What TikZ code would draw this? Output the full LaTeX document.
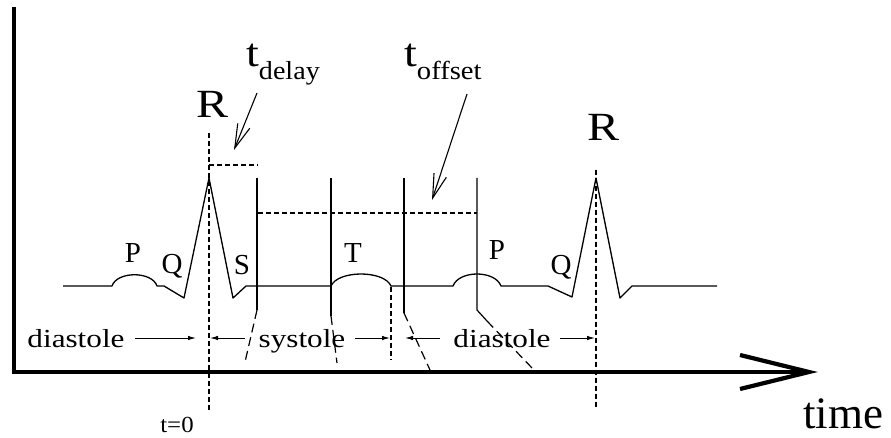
\documentclass[tikz,border=0pt]{standalone}
\usepackage{fontspec}
\setmainfont{Liberation Serif}
\usetikzlibrary{arrows.meta}
\newcommand{\hstretch}[2]{\scalebox{#1}[1]{#2}}
\begin{document}
\begin{tikzpicture}[x=1pt,y=-1pt,
  ecg/.style={line width=1.3pt, line join=round},
  vline/.style={line width=1.2pt},
  dline/.style={line width=1.1pt, dash pattern=on 5pt off 3pt},
  slant/.style={line width=1.2pt, dash pattern=on 9pt off 5pt},
  axisline/.style={line width=4.2pt},
  lbl/.style={inner sep=0pt, font=\fontsize{26}{30}\selectfont},
  wave/.style={inner sep=0pt, font=\fontsize{29}{32}\selectfont},
  big/.style={inner sep=0pt, font=\fontsize{40}{44}\selectfont},
  rowarrow/.style={line width=1pt, -{Latex[length=8pt,width=4.5pt]}},
  callout/.style={line width=1.1pt, -{Straight Barb[length=24pt,width=13pt]}}]
\useasboundingbox (0,0) rectangle (891,438);
% axes
\draw[axisline] (14,7) -- (14,374);
\draw[axisline] (12,372) -- (804,372);
\draw[axisline, line join=miter] (740,355) -- (809,372) -- (740,389);
\node[inner sep=0pt, anchor=base west, font=\fontsize{45}{48}\selectfont] (time) at (803,428) {time};
% ECG trace
\draw[ecg] (63,286) -- (112,286) .. controls (117,271) and (152,271) .. (157,286)
  -- (164,286) -- (184,298) -- (209,178) -- (233,298) -- (246,286) -- (331,286)
  .. controls (338,270) and (384,270) .. (391,286) -- (453,286)
  .. controls (459,270) and (495,270) .. (501,286) -- (548,286) -- (572,297)
  -- (596,178) -- (620,298) -- (632,286) -- (717,286);
% R marker lines
\draw[dline] (209,133) -- (209,410);
\draw[dline] (596,170) -- (596,408);
% vertical markers
\draw[vline] (257,178) -- (257,310);
\draw[slant] (257,310) -- (245,362);
\draw[vline] (331,178) -- (331,316);
\draw[slant] (331,316) -- (337,363);
\draw[vline] (404,178) -- (404,313);
\draw[slant] (404,313) -- (430,370);
\draw[vline] (477,178) -- (477,310) -- (487,321);
\draw[slant] (487,321) -- (533,369);
\draw[dline] (391,287) -- (391,360);
% interval lines
\draw[dline] (209,165) -- (258,165);
\draw[dline] (258,213) -- (477,213);
% labels
\node[big, anchor=base] (R1) at (213,118) {\hstretch{1.2}{R}};
\node[big, anchor=base] (R2) at (603,141) {\hstretch{1.2}{R}};
\node[inner sep=0pt, anchor=base west] (td) at (246,67)
  {\fontsize{40}{44}\selectfont\hstretch{1.15}{t}\raisebox{-13pt}{\fontsize{26}{30}\selectfont\hstretch{1.08}{delay}}};
\node[inner sep=0pt, anchor=base west] (to) at (404,67)
  {\fontsize{40}{44}\selectfont\hstretch{1.15}{t}\raisebox{-13pt}{\fontsize{26}{30}\selectfont\hstretch{1.1}{offset}}};
\coordinate (tdA) at (257,93);
\coordinate (tdB) at (234,150);
\coordinate (toA) at (467,94);
\coordinate (toB) at (432,200);
\draw[callout] (tdA) -- (tdB);
\draw[callout] (toA) -- (toB);
\node[wave, anchor=base] (P1) at (133,262) {P};
\node[wave, anchor=base] (Q1) at (172,273) {Q};
\node[wave, anchor=base] (S1) at (242,274) {S};
\node[wave, anchor=base] (T1) at (353,262) {T};
\node[wave, anchor=base] (P2) at (497,260) {P};
\node[wave, anchor=base] (Q2) at (561,275) {Q};
% phase row
\node[lbl, anchor=base] (dia1) at (76,347) {\hstretch{1.2}{diastole}};
\node[lbl, anchor=base] (sys) at (302,347) {\hstretch{1.2}{systole}};
\node[lbl, anchor=base] (dia2) at (502,347) {\hstretch{1.2}{diastole}};
\coordinate (a1s) at (135,338); \coordinate (a1e) at (196,338);
\coordinate (a2s) at (245,338); \coordinate (a2e) at (210,338);
\coordinate (a3s) at (355,338); \coordinate (a3e) at (390,338);
\coordinate (a4s) at (440,338); \coordinate (a4e) at (405,338);
\coordinate (a5s) at (560,338); \coordinate (a5e) at (595,338);
\draw[rowarrow] (a1s) -- (a1e);
\draw[rowarrow] (a2s) -- (a2e);
\draw[rowarrow] (a3s) -- (a3e);
\draw[rowarrow] (a4s) -- (a4e);
\draw[rowarrow] (a5s) -- (a5e);
\node[inner sep=0pt, anchor=base, font=\fontsize{23}{26}\selectfont] (t0) at (177,432) {\hstretch{1.08}{t=0}};
\end{tikzpicture}
\end{document}
